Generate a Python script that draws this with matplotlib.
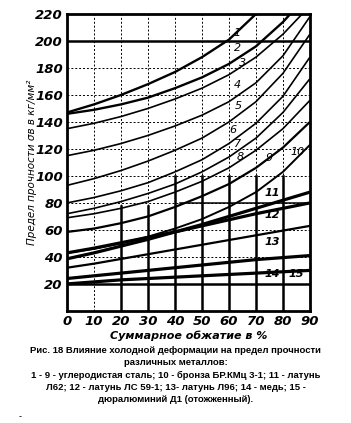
import numpy as np
import matplotlib.pyplot as plt

# cold deformation, %
x_pct = np.array([0, 10, 20, 30, 40, 50, 60, 70, 80, 90])

# tensile strength, kg/mm2
steel_1 = [147, 153, 160, 168, 177, 188, 201, 220, 242, 265]
steel_2 = [146, 149, 153, 158, 165, 173, 183, 196, 214, 236]
steel_3 = [135, 139, 144, 150, 157, 165, 175, 188, 205, 226]
steel_4 = [115, 119, 124, 130, 137, 145, 155, 169, 189, 218]
steel_5 = [93, 98, 104, 111, 119, 128, 140, 155, 176, 205]
steel_6 = [80, 84, 89, 95, 103, 112, 124, 139, 159, 188]
steel_7 = [72, 76, 81, 87, 94, 103, 114, 128, 147, 172]
steel_8 = [69, 72, 76, 81, 88, 96, 106, 119, 135, 156]
steel_9 = [58.5, 61, 65, 70, 77, 85, 94, 106, 121, 140]
bronze_10 = [43, 46, 50, 55, 61, 68, 77, 88, 103, 123]
brass_11 = [38.6, 43, 48, 53, 58.5, 64, 70, 76, 82, 88]
brass_12 = [43, 46.5, 50.5, 54.5, 58.5, 63, 67.5, 72, 76, 80]
brass_13 = [32, 35, 38.5, 42, 45.5, 49, 52.5, 56, 59.5, 63]
copper_14 = [24, 26, 28, 30, 32, 34, 36, 38, 39.5, 41]
dural_15 = [20, 21.5, 23, 24, 25, 26, 27, 28, 29, 30]

curves = [steel_1, steel_2, steel_3, steel_4, steel_5, steel_6, steel_7,
          steel_8, steel_9, bronze_10, brass_11, brass_12, brass_13,
          copper_14, dural_15]
widths = [1.7, 1.7, 1.2, 1.2, 1.2, 1.2, 1.2, 1.2, 1.6, 1.4, 2.3, 2.3, 1.6, 2.3, 2.3]

labels = ["1", "2", "3", "4", "5", "6", "7", "8", "9", "10", "11", "12", "13", "14", "15"]
label_x = [63, 63, 65, 63, 63.5, 61.5, 63, 64, 75, 85.5, 76, 76, 76, 76, 85]
label_y = [206, 195, 184, 167, 152, 134, 124, 114, 113, 118, 87, 71, 51, 27, 27]

xticks = [0, 10, 20, 30, 40, 50, 60, 70, 80, 90]
yticks = [20, 40, 60, 80, 100, 120, 140, 160, 180, 200, 220]

fig = plt.figure(figsize=(3.51, 4.23), dpi=100)
ax = fig.add_axes([0.191, 0.265, 0.692, 0.702])

# grid: dotted everywhere, heavier segments as on the print
for xv in xticks[1:-1]:
    ax.axvline(xv, color="black", lw=0.7, ls=(0, (2, 2)), zorder=1)
for xv in [20, 30]:
    ax.plot([xv, xv], [0, 78], color="black", lw=1.8, zorder=1)
for xv in [40, 50, 60, 70, 80]:
    ax.plot([xv, xv], [0, 100], color="black", lw=1.8, zorder=1)
for yv in yticks[:-1]:
    ax.axhline(yv, color="black", lw=0.7, ls=(0, (2, 2)), zorder=1)
ax.axhline(20, color="black", lw=1.8, zorder=1)
ax.axhline(200, color="black", lw=1.8, zorder=1)
ax.plot([42, 90], [80, 80], color="black", lw=1.1, zorder=1)

for vals, lw in zip(curves, widths):
    ax.plot(x_pct, vals, color="black", lw=lw, solid_capstyle="butt", zorder=3)

for i, (lab, lx, ly) in enumerate(zip(labels, label_x, label_y)):
    bold = "bold" if i >= 10 else "normal"
    ax.text(lx, ly, lab, fontsize=8, style="italic", fontweight=bold,
            ha="center", va="center", zorder=4)

ax.set_xlim(0, 90)
ax.set_ylim(0, 220)
ax.set_xticks(xticks)
ax.set_yticks(yticks)
ax.tick_params(length=0, pad=3)
for t in ax.get_xticklabels() + ax.get_yticklabels():
    t.set_fontweight("bold")
    t.set_fontstyle("italic")
    t.set_fontsize(9.5)
for s in ax.spines.values():
    s.set_linewidth(2)

ax.set_ylabel("Предел прочности σв в кг/мм²", fontsize=7.5, style="italic", labelpad=-1)
ax.set_xlabel("Суммарное обжатие в %", fontsize=8, style="italic", fontweight="bold", labelpad=2)

caption = ["Рис. 18 Влияние холодной деформации на предел прочности",
           "различных металлов:",
           "1 - 9 - углеродистая сталь; 10 - бронза БР.КМц 3-1; 11 - латунь",
           "Л62; 12 - латунь ЛС 59-1; 13- латунь Л96; 14 - медь; 15 -",
           "дюралюминий Д1 (отожженный)."]
cap_y = [350, 362, 375, 387, 399]
for line, yy in zip(caption, cap_y):
    fig.text(0.5, 1 - yy / 423, line, ha="center", va="center", fontsize=6.8,
             fontweight="bold", family="Liberation Sans")
fig.text(20 / 351, 1 - 417 / 423, "-", fontsize=6, ha="center", va="center")

fig.savefig("out.png", dpi=100, facecolor="white")
